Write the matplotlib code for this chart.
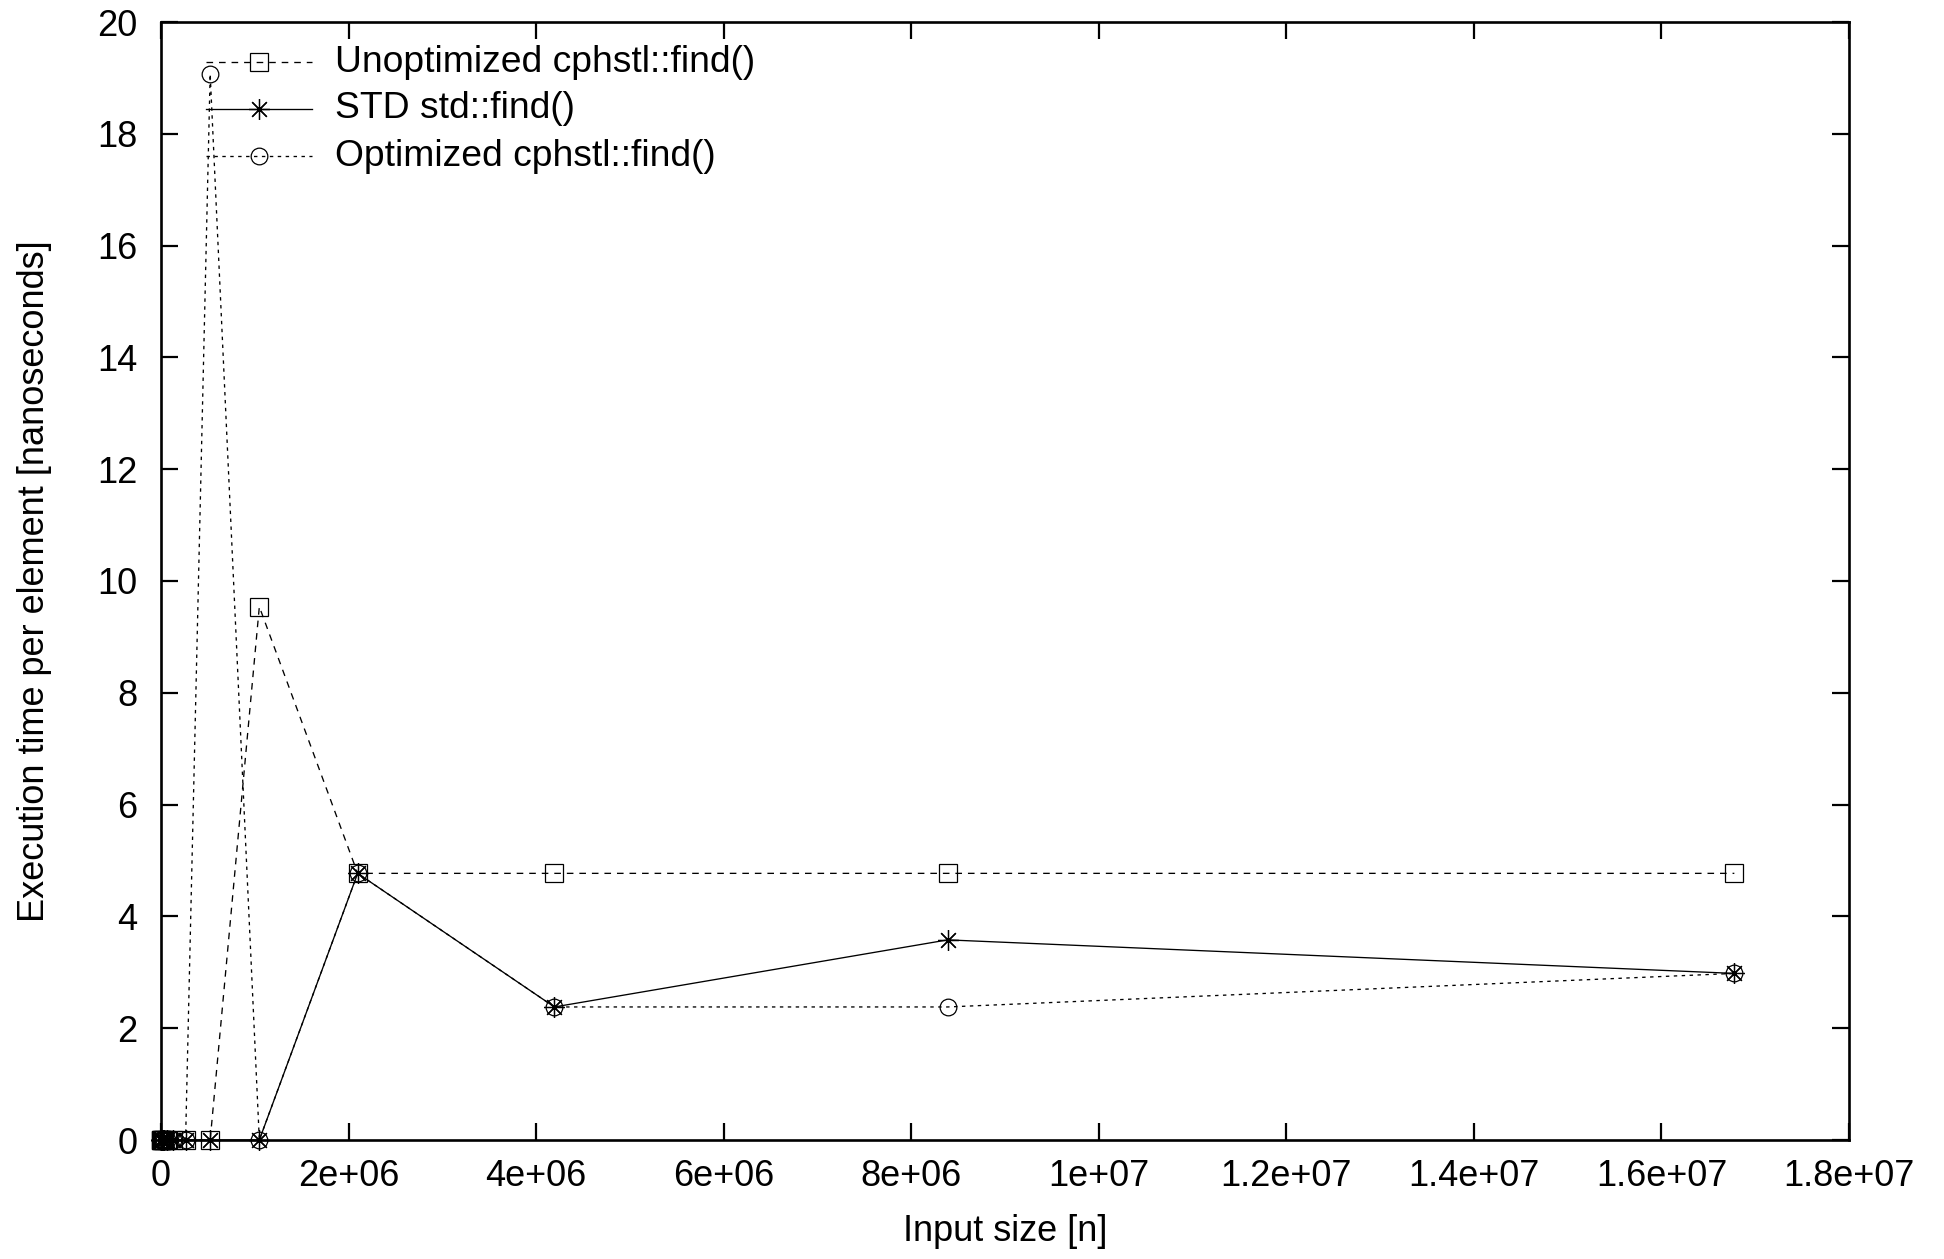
import matplotlib
matplotlib.use("Agg")
import matplotlib.pyplot as plt

plt.rcParams['font.family'] = ['Liberation Sans', 'DejaVu Sans']

# input sizes 2^10 .. 2^24
input_size = [1024, 2048, 4096, 8192, 16384, 32768, 65536, 131072, 262144,
              524288, 1048576, 2097152, 4194304, 8388608, 16777216]

# execution time per element [ns]
unoptimized = [0, 0, 0, 0, 0, 0, 0, 0, 0, 0, 9.54, 4.77, 4.77, 4.77, 4.77]
std_find = [0, 0, 0, 0, 0, 0, 0, 0, 0, 0, 0, 4.77, 2.38, 3.58, 2.98]
optimized = [0, 0, 0, 0, 0, 0, 0, 0, 0, 19.07, 0, 4.77, 2.38, 2.38, 2.98]

labels = ["Unoptimized cphstl::find()", "STD std::find()", "Optimized cphstl::find()"]

x_ticks = [0, 2e6, 4e6, 6e6, 8e6, 1e7, 1.2e7, 1.4e7, 1.6e7, 1.8e7]
x_tick_labels = ["0", "2e+06", "4e+06", "6e+06", "8e+06", "1e+07",
                 "1.2e+07", "1.4e+07", "1.6e+07", "1.8e+07"]
y_ticks = [0, 2, 4, 6, 8, 10, 12, 14, 16, 18, 20]

fig = plt.figure(figsize=(19.44, 12.59), dpi=100)
ax = fig.add_axes([161 / 1944, 1 - 1140 / 1259, 1688 / 1944, 1118 / 1259])

# gnuplot-like styles
asterisk = (8, 2, 0)
styles = [
    dict(ls=(0, (5, 4.5)), marker='s', ms=13.5),
    dict(ls='-', marker=asterisk, ms=15),
    dict(ls=(0, (2.6, 3.4)), marker='o', ms=12),
]
series = [unoptimized, std_find, optimized]

for vals, st in zip(series, styles):
    ax.plot(input_size, vals, color='black', lw=0.95, linestyle=st['ls'],
            marker=st['marker'], markersize=st['ms'], markerfacecolor='none',
            markeredgecolor='black', markeredgewidth=0.9, clip_on=False, zorder=3)

# legend drawn by hand, gnuplot style (sample line with marker in the middle)
row_y = [(1140 - 62) / 1118, (1140 - 109) / 1118, (1140 - 156) / 1118]
x0, x1, xm, xt = (206 - 161) / 1688, (312 - 161) / 1688, (259 - 161) / 1688, (335 - 161) / 1688
for lab, st, yy in zip(labels, styles, row_y):
    ax.plot([x0, x1], [yy, yy], transform=ax.transAxes, color='black', lw=0.95,
            linestyle=st['ls'], clip_on=False, zorder=4)
    ax.plot([xm], [yy], transform=ax.transAxes, linestyle='none', marker=st['marker'],
            markersize=st['ms'], markerfacecolor='none', markeredgecolor='black',
            markeredgewidth=0.9, clip_on=False, zorder=4)
    ax.text(xt, yy, lab, transform=ax.transAxes, fontsize=26.8, va='center', ha='left')

ax.set_xlim(0, 1.8e7)
ax.set_ylim(0, 20)
ax.set_xticks(x_ticks)
ax.set_xticklabels(x_tick_labels)
ax.set_yticks(y_ticks)

ax.tick_params(direction='in', length=12, width=1.6, top=True, right=True,
               labelsize=26, colors='black')
ax.tick_params(axis='y', pad=17)
ax.tick_params(axis='x', pad=14)
for sp in ax.spines.values():
    sp.set_linewidth(1.9)

ax.set_xlabel("Input size [n]", fontsize=26)
ax.set_ylabel("Execution time per element [nanoseconds]", fontsize=26)
ax.xaxis.set_label_coords(0.5, -0.066)
ax.yaxis.set_label_coords(-0.0646, 0.5)

fig.savefig("out.png", dpi=100)
